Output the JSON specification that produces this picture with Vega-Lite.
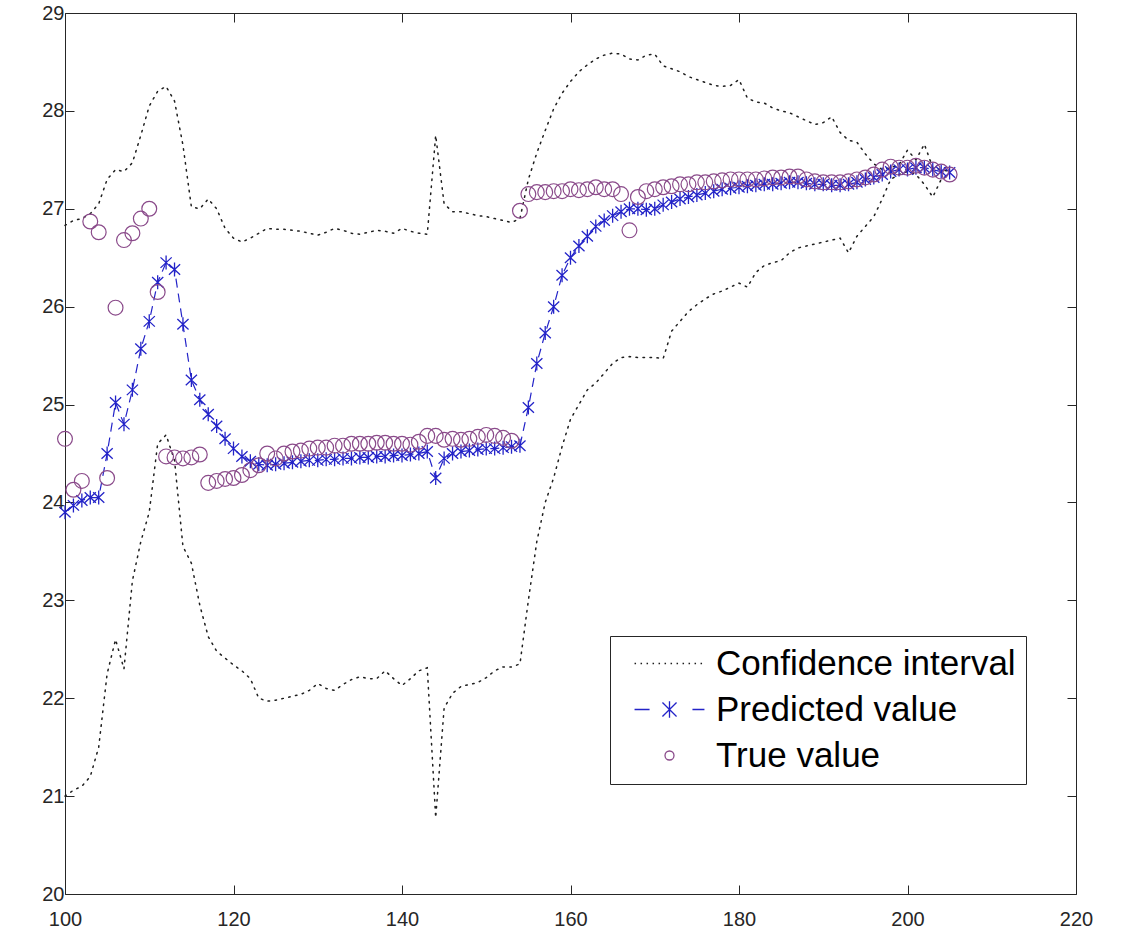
{
"$schema": "https://vega.github.io/schema/vega-lite/v6.json",
"width": 1011, "height": 881,
"autosize": "none",
"padding": {"left": 65, "top": 13, "right": 46, "bottom": 38},
"background": "white",
"config": {"view": {"stroke": "#262626", "strokeWidth": 1}, "font": "Liberation Sans"},
"data": {"values": [
{"x":100,"pred":23.9,"truth":24.65,"upper":26.83,"lower":21.0},
{"x":101,"pred":23.97,"truth":24.13,"upper":26.88,"lower":21.06},
{"x":102,"pred":24.02,"truth":24.22,"upper":26.9,"lower":21.1},
{"x":103,"pred":24.05,"truth":26.87,"upper":26.95,"lower":21.2},
{"x":104,"pred":24.05,"truth":26.76,"upper":27.05,"lower":21.5},
{"x":105,"pred":24.5,"truth":24.25,"upper":27.3,"lower":22.25},
{"x":106,"pred":25.02,"truth":25.99,"upper":27.4,"lower":22.6},
{"x":107,"pred":24.8,"truth":26.68,"upper":27.38,"lower":22.3},
{"x":108,"pred":25.15,"truth":26.75,"upper":27.47,"lower":23.2},
{"x":109,"pred":25.57,"truth":26.9,"upper":27.75,"lower":23.6},
{"x":110,"pred":25.85,"truth":27.0,"upper":28.05,"lower":23.9},
{"x":111,"pred":26.25,"truth":26.15,"upper":28.2,"lower":24.6},
{"x":112,"pred":26.45,"truth":24.47,"upper":28.25,"lower":24.69},
{"x":113,"pred":26.38,"truth":24.46,"upper":28.1,"lower":24.43},
{"x":114,"pred":25.82,"truth":24.45,"upper":27.65,"lower":23.55},
{"x":115,"pred":25.25,"truth":24.46,"upper":27.02,"lower":23.38},
{"x":116,"pred":25.05,"truth":24.49,"upper":27.0,"lower":22.95},
{"x":117,"pred":24.9,"truth":24.2,"upper":27.1,"lower":22.63},
{"x":118,"pred":24.78,"truth":24.22,"upper":27.0,"lower":22.48},
{"x":119,"pred":24.65,"truth":24.24,"upper":26.8,"lower":22.41},
{"x":120,"pred":24.55,"truth":24.25,"upper":26.7,"lower":22.34},
{"x":121,"pred":24.47,"truth":24.28,"upper":26.66,"lower":22.28},
{"x":122,"pred":24.42,"truth":24.33,"upper":26.7,"lower":22.2},
{"x":123,"pred":24.39,"truth":24.38,"upper":26.75,"lower":22.0},
{"x":124,"pred":24.38,"truth":24.5,"upper":26.8,"lower":21.97},
{"x":125,"pred":24.39,"truth":24.45,"upper":26.79,"lower":21.98},
{"x":126,"pred":24.4,"truth":24.5,"upper":26.79,"lower":22.0},
{"x":127,"pred":24.41,"truth":24.52,"upper":26.78,"lower":22.02},
{"x":128,"pred":24.42,"truth":24.53,"upper":26.77,"lower":22.04},
{"x":129,"pred":24.43,"truth":24.55,"upper":26.75,"lower":22.08},
{"x":130,"pred":24.43,"truth":24.56,"upper":26.73,"lower":22.15},
{"x":131,"pred":24.44,"truth":24.56,"upper":26.76,"lower":22.1},
{"x":132,"pred":24.44,"truth":24.58,"upper":26.8,"lower":22.08},
{"x":133,"pred":24.45,"truth":24.58,"upper":26.78,"lower":22.14},
{"x":134,"pred":24.45,"truth":24.6,"upper":26.75,"lower":22.19},
{"x":135,"pred":24.46,"truth":24.6,"upper":26.74,"lower":22.22},
{"x":136,"pred":24.46,"truth":24.6,"upper":26.76,"lower":22.2},
{"x":137,"pred":24.47,"truth":24.61,"upper":26.78,"lower":22.2},
{"x":138,"pred":24.47,"truth":24.61,"upper":26.77,"lower":22.28},
{"x":139,"pred":24.48,"truth":24.6,"upper":26.75,"lower":22.2},
{"x":140,"pred":24.48,"truth":24.6,"upper":26.8,"lower":22.13},
{"x":141,"pred":24.49,"truth":24.59,"upper":26.77,"lower":22.2},
{"x":142,"pred":24.5,"truth":24.62,"upper":26.75,"lower":22.28},
{"x":143,"pred":24.52,"truth":24.68,"upper":26.74,"lower":22.31},
{"x":144,"pred":24.25,"truth":24.68,"upper":27.75,"lower":20.78},
{"x":145,"pred":24.45,"truth":24.64,"upper":27.05,"lower":21.9},
{"x":146,"pred":24.5,"truth":24.65,"upper":26.97,"lower":22.05},
{"x":147,"pred":24.52,"truth":24.64,"upper":26.97,"lower":22.12},
{"x":148,"pred":24.53,"truth":24.65,"upper":26.95,"lower":22.14},
{"x":149,"pred":24.54,"truth":24.67,"upper":26.93,"lower":22.16},
{"x":150,"pred":24.55,"truth":24.69,"upper":26.92,"lower":22.21},
{"x":151,"pred":24.55,"truth":24.68,"upper":26.9,"lower":22.28},
{"x":152,"pred":24.56,"truth":24.66,"upper":26.88,"lower":22.32},
{"x":153,"pred":24.57,"truth":24.63,"upper":26.86,"lower":22.32},
{"x":154,"pred":24.58,"truth":26.98,"upper":26.9,"lower":22.35},
{"x":155,"pred":24.97,"truth":27.15,"upper":27.3,"lower":23.0},
{"x":156,"pred":25.42,"truth":27.17,"upper":27.57,"lower":23.6},
{"x":157,"pred":25.73,"truth":27.17,"upper":27.8,"lower":24.0},
{"x":158,"pred":26.0,"truth":27.18,"upper":28.02,"lower":24.25},
{"x":159,"pred":26.32,"truth":27.18,"upper":28.18,"lower":24.57},
{"x":160,"pred":26.5,"truth":27.2,"upper":28.3,"lower":24.85},
{"x":161,"pred":26.62,"truth":27.19,"upper":28.4,"lower":25.0},
{"x":162,"pred":26.72,"truth":27.2,"upper":28.47,"lower":25.15},
{"x":163,"pred":26.82,"truth":27.22,"upper":28.53,"lower":25.22},
{"x":164,"pred":26.88,"truth":27.2,"upper":28.57,"lower":25.32},
{"x":165,"pred":26.93,"truth":27.2,"upper":28.59,"lower":25.42},
{"x":166,"pred":26.97,"truth":27.15,"upper":28.58,"lower":25.48},
{"x":167,"pred":27.0,"truth":26.78,"upper":28.53,"lower":25.49},
{"x":168,"pred":27.0,"truth":27.12,"upper":28.52,"lower":25.48},
{"x":169,"pred":26.99,"truth":27.18,"upper":28.57,"lower":25.48},
{"x":170,"pred":27.0,"truth":27.2,"upper":28.58,"lower":25.48},
{"x":171,"pred":27.04,"truth":27.22,"upper":28.46,"lower":25.47},
{"x":172,"pred":27.07,"truth":27.23,"upper":28.43,"lower":25.75},
{"x":173,"pred":27.1,"truth":27.25,"upper":28.4,"lower":25.85},
{"x":174,"pred":27.12,"truth":27.25,"upper":28.35,"lower":25.95},
{"x":175,"pred":27.14,"truth":27.27,"upper":28.32,"lower":26.02},
{"x":176,"pred":27.16,"truth":27.27,"upper":28.29,"lower":26.08},
{"x":177,"pred":27.18,"truth":27.28,"upper":28.26,"lower":26.13},
{"x":178,"pred":27.2,"truth":27.29,"upper":28.25,"lower":26.16},
{"x":179,"pred":27.21,"truth":27.3,"upper":28.26,"lower":26.2},
{"x":180,"pred":27.22,"truth":27.3,"upper":28.32,"lower":26.24},
{"x":181,"pred":27.23,"truth":27.3,"upper":28.13,"lower":26.2},
{"x":182,"pred":27.24,"truth":27.3,"upper":28.09,"lower":26.35},
{"x":183,"pred":27.25,"truth":27.31,"upper":28.08,"lower":26.42},
{"x":184,"pred":27.25,"truth":27.32,"upper":28.03,"lower":26.45},
{"x":185,"pred":27.26,"truth":27.32,"upper":28.0,"lower":26.47},
{"x":186,"pred":27.27,"truth":27.33,"upper":27.98,"lower":26.55},
{"x":187,"pred":27.27,"truth":27.33,"upper":27.94,"lower":26.6},
{"x":188,"pred":27.26,"truth":27.3,"upper":27.9,"lower":26.62},
{"x":189,"pred":27.25,"truth":27.28,"upper":27.86,"lower":26.64},
{"x":190,"pred":27.25,"truth":27.27,"upper":27.88,"lower":26.66},
{"x":191,"pred":27.24,"truth":27.27,"upper":27.94,"lower":26.68},
{"x":192,"pred":27.24,"truth":27.27,"upper":27.78,"lower":26.7},
{"x":193,"pred":27.25,"truth":27.28,"upper":27.7,"lower":26.55},
{"x":194,"pred":27.27,"truth":27.3,"upper":27.68,"lower":26.72},
{"x":195,"pred":27.3,"truth":27.32,"upper":27.56,"lower":26.82},
{"x":196,"pred":27.32,"truth":27.35,"upper":27.46,"lower":26.92},
{"x":197,"pred":27.35,"truth":27.4,"upper":27.4,"lower":27.1},
{"x":198,"pred":27.38,"truth":27.43,"upper":27.42,"lower":27.3},
{"x":199,"pred":27.4,"truth":27.42,"upper":27.45,"lower":27.35},
{"x":200,"pred":27.4,"truth":27.42,"upper":27.6,"lower":27.38},
{"x":201,"pred":27.42,"truth":27.44,"upper":27.5,"lower":27.35},
{"x":202,"pred":27.42,"truth":27.42,"upper":27.66,"lower":27.25},
{"x":203,"pred":27.4,"truth":27.4,"upper":27.42,"lower":27.12},
{"x":204,"pred":27.38,"truth":27.38,"upper":27.4,"lower":27.3},
{"x":205,"pred":27.37,"truth":27.35,"upper":27.38,"lower":27.35}
]},
"layer": [
 {
  "transform": [{"fold": ["upper", "lower"], "as": ["band", "ci"]}],
  "mark": {"type": "line", "strokeDash": [1.5, 5.5], "strokeWidth": 1.5, "strokeCap": "round"},
  "encoding": {
   "x": {"field": "x", "type": "quantitative",
     "scale": {"domain": [100, 220], "nice": false, "zero": false},
     "axis": {"orient": "bottom", "values": [100,120,140,160,180,200,220], "title": null, "grid": false,
       "offset": -9, "tickSize": 9, "domain": false, "labelPadding": 15, "labelFontSize": 20, "labelFont": "Liberation Sans",
       "labelColor": "#262626", "tickColor": "#262626",
       "labelFlush": false, "labelOverlap": false}},
   "y": {"field": "ci", "type": "quantitative",
     "scale": {"domain": [20, 29], "nice": false, "zero": false},
     "axis": {"orient": "left", "values": [20,21,22,23,24,25,26,27,28,29], "title": null, "grid": false,
       "offset": -9, "tickSize": 9, "domain": false, "labelPadding": 1, "labelFontSize": 20, "labelFont": "Liberation Sans",
       "labelColor": "#262626", "tickColor": "#262626",
       "labelFlush": false, "labelOverlap": false}},
   "detail": {"field": "band"},
   "color": {"datum": "Confidence interval", "type": "nominal",
     "scale": {"domain": ["Confidence interval", "Predicted value", "True value"],
               "range": ["#1e1e1e", "#2323c8", "#8a4a8a"]},
     "legend": {"orient": "none", "legendX": 545, "legendY": 623, "title": null,
       "strokeColor": "#262626", "fillColor": "white", "padding": 10,
       "labelFont": "Liberation Sans", "labelFontSize": 35, "labelColor": "#000000", "labelLimit": 500,
       "symbolSize": 900, "symbolStrokeWidth": 1.3, "symbolOffset": 32, "labelOffset": 29, "rowPadding": 10,
       "encode": {"symbols": {"update": {
          "shape": {"signal": "datum.value === 'Confidence interval' ? 'M-2.33,0L2.33,0' : datum.value === 'Predicted value' ? 'M-2.33,0L-1.33,0M1.53,0L2.33,0M0,-0.55L0,0.55M-0.47,-0.47L0.47,0.47M-0.47,0.47L0.47,-0.47' : 'M0.3,0A0.3,0.3,0,1,1,-0.3,0A0.3,0.3,0,1,1,0.3,0Z'"},
          "strokeDash": {"signal": "datum.value === 'Confidence interval' ? [1.5, 4.5] : []"},
          "fill": {"value": "transparent"},
          "opacity": {"value": 1}
       }}}}
   }
  }
 },
 {
  "mark": {"type": "line", "strokeDash": [9, 6], "strokeWidth": 1.2},
  "encoding": {
   "x": {"field": "x", "type": "quantitative",
     "axis": {"orient": "top", "values": [100,120,140,160,180,200,220], "title": null, "grid": false,
       "labels": false, "offset": -9, "tickSize": 9, "domain": false, "tickColor": "#262626"}},
   "y": {"field": "pred", "type": "quantitative",
     "axis": {"orient": "right", "values": [20,21,22,23,24,25,26,27,28,29], "title": null, "grid": false,
       "labels": false, "offset": -9, "tickSize": 9, "domain": false, "tickColor": "#262626"}},
   "color": {"datum": "Predicted value", "type": "nominal"}
  }
 },
 {
  "mark": {"type": "point", "filled": false, "strokeWidth": 1.3, "opacity": 1, "size": 196,
           "shape": "M0,-1L0,1M-0.8,-0.75L0.8,0.75M-0.8,0.75L0.8,-0.75"},
  "encoding": {
   "x": {"field": "x", "type": "quantitative", "axis": null},
   "y": {"field": "pred", "type": "quantitative", "axis": null},
   "color": {"datum": "Predicted value", "type": "nominal"}
  }
 },
 {
  "mark": {"type": "point", "shape": "circle", "filled": false, "strokeWidth": 1.2, "opacity": 1, "size": 220},
  "encoding": {
   "x": {"field": "x", "type": "quantitative", "axis": null},
   "y": {"field": "truth", "type": "quantitative", "axis": null},
   "color": {"datum": "True value", "type": "nominal"}
  }
 }
],
"resolve": {"axis": {"x": "independent", "y": "independent"}}
}
